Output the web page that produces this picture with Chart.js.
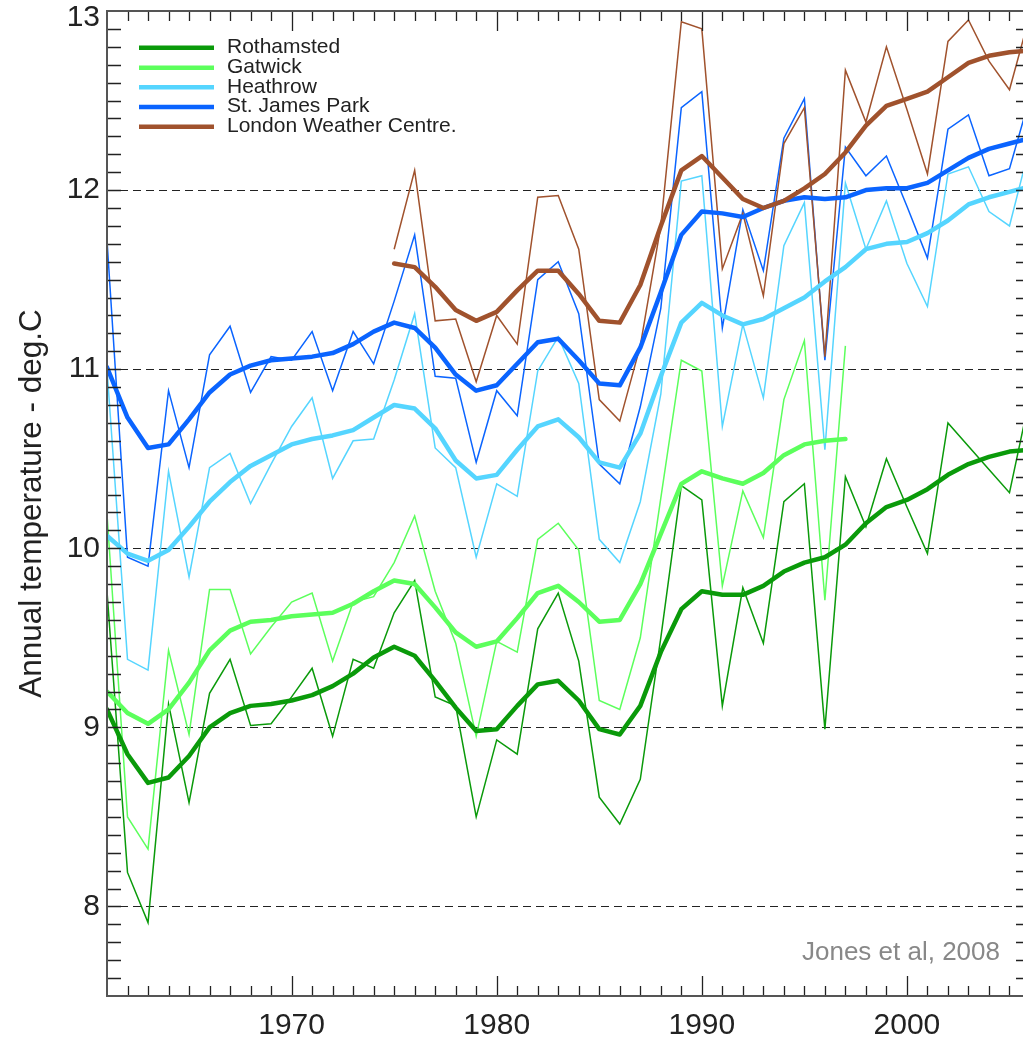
<!DOCTYPE html>
<html><head><meta charset="utf-8">
<script src="https://cdn.jsdelivr.net/npm/chart.js@4.4.1/dist/chart.umd.min.js"></script>
<style>
html,body{margin:0;padding:0;overflow:hidden;background:#fff;}
#wrap{position:absolute;left:0;top:0;width:1040px;height:1040px;}
</style>
</head><body><div id="wrap"><canvas id="c" width="1040" height="1040"></canvas></div>
<script>
const years = [1961,1962,1963,1964,1965,1966,1967,1968,1969,1970,1971,1972,1973,1974,1975,1976,1977,1978,1979,1980,1981,1982,1983,1984,1985,1986,1987,1988,1989,1990,1991,1992,1993,1994,1995,1996,1997,1998,1999,2000,2001,2002,2003,2004,2005,2006];
const gatwickYears = years.slice(0, 37);   // 1961-1997
const lwcYears = years.slice(14);          // 1975-2006

const rothamstedRaw = [9.76,8.19,7.91,9.13,8.58,9.19,9.38,9.01,9.02,9.17,9.33,8.95,9.38,9.33,9.64,9.82,9.17,9.12,8.50,8.93,8.85,9.55,9.75,9.37,8.61,8.46,8.71,9.50,10.35,10.27,9.12,9.78,9.47,10.26,10.36,8.99,10.40,10.12,10.50,10.23,9.97,10.70,10.57,10.44,10.31,10.85];
const rothamstedSmooth = [9.10,8.85,8.69,8.72,8.84,9.00,9.08,9.12,9.13,9.15,9.18,9.23,9.30,9.39,9.45,9.40,9.26,9.11,8.98,8.99,9.12,9.24,9.26,9.15,8.99,8.96,9.12,9.42,9.66,9.76,9.74,9.74,9.79,9.87,9.92,9.95,10.02,10.14,10.23,10.27,10.33,10.41,10.47,10.51,10.54,10.55];

const gatwickRaw = [10.19,8.50,8.32,9.43,8.96,9.77,9.77,9.41,9.56,9.70,9.75,9.37,9.70,9.73,9.92,10.18,9.76,9.47,8.95,9.48,9.42,10.05,10.14,9.99,9.15,9.10,9.50,10.28,11.05,10.99,9.79,10.32,10.06,10.83,11.16,9.71,11.13];
const gatwickSmooth = [9.20,9.08,9.02,9.10,9.25,9.43,9.54,9.59,9.60,9.62,9.63,9.64,9.69,9.76,9.82,9.80,9.67,9.53,9.45,9.48,9.61,9.75,9.79,9.70,9.59,9.60,9.80,10.08,10.36,10.43,10.39,10.36,10.42,10.52,10.58,10.60,10.61];

const heathrowRaw = [11.00,9.38,9.32,10.43,9.84,10.45,10.53,10.25,10.47,10.68,10.84,10.39,10.60,10.61,10.94,11.31,10.56,10.45,9.95,10.36,10.29,10.99,11.18,10.92,10.05,9.92,10.26,10.86,12.05,12.08,10.68,11.25,10.84,11.69,11.93,10.55,12.04,11.67,11.94,11.59,11.35,12.09,12.13,11.88,11.80,12.25];
const heathrowSmooth = [10.07,9.97,9.93,9.99,10.12,10.26,10.37,10.46,10.52,10.58,10.61,10.63,10.66,10.73,10.80,10.78,10.67,10.49,10.39,10.41,10.55,10.68,10.72,10.62,10.48,10.45,10.64,10.96,11.26,11.37,11.30,11.25,11.28,11.34,11.40,11.49,11.57,11.67,11.70,11.71,11.76,11.83,11.92,11.96,11.99,12.02];

const stJamesRaw = [11.72,9.95,9.90,10.88,10.45,11.08,11.24,10.87,11.07,11.05,11.21,10.88,11.21,11.03,11.38,11.75,10.96,10.95,10.48,10.88,10.74,11.50,11.60,11.31,10.47,10.36,10.79,11.34,12.46,12.55,11.23,11.89,11.55,12.29,12.51,11.05,12.24,12.08,12.19,11.91,11.62,12.34,12.42,12.08,12.12,12.52];
const stJamesSmooth = [11.01,10.73,10.56,10.58,10.72,10.87,10.97,11.02,11.05,11.06,11.07,11.09,11.14,11.21,11.26,11.23,11.12,10.97,10.88,10.91,11.03,11.15,11.17,11.05,10.92,10.91,11.12,11.43,11.75,11.88,11.87,11.85,11.90,11.94,11.96,11.95,11.96,12.00,12.01,12.01,12.04,12.11,12.18,12.23,12.26,12.29];

const lwcRaw = [11.67,12.11,11.27,11.28,10.93,11.30,11.14,11.96,11.97,11.67,10.83,10.71,11.13,11.80,12.94,12.90,11.56,11.87,11.41,12.26,12.46,11.07,12.67,12.38,12.80,12.45,12.09,12.83,12.95,12.72,12.56,12.98];
const lwcSmooth = [11.59,11.57,11.46,11.33,11.27,11.32,11.44,11.55,11.55,11.42,11.27,11.26,11.47,11.80,12.11,12.19,12.07,11.95,11.90,11.94,12.01,12.09,12.21,12.36,12.47,12.51,12.55,12.63,12.71,12.75,12.77,12.78];

const seriesNames = ["Rothamsted","Gatwick","Heathrow","St. James Park","London Weather Centre."];
const seriesColors = ["#0a9a0a","#5cff5c","#55d5ff","#0a64ff","#a0522d"];
const yLabelTicks = [8,9,10,11,12,13];
const xLabelTicks = [1970,1980,1990,2000];

function pts(xs, ys){ return xs.map((x,i)=>({x:x, y:ys[i]})); }

const FONT = '"Liberation Sans", Arial, Helvetica, sans-serif';

const rawSets = [
  [years, rothamstedRaw], [gatwickYears, gatwickRaw], [years, heathrowRaw], [years, stJamesRaw], [lwcYears, lwcRaw]
];
const smoothSets = [
  [years, rothamstedSmooth], [gatwickYears, gatwickSmooth], [years, heathrowSmooth], [years, stJamesSmooth], [lwcYears, lwcSmooth]
];

const datasets = [];
rawSets.forEach((s,i)=>{
  datasets.push({label:'', data:pts(s[0],s[1]), borderColor:seriesColors[i], borderWidth:1.5,
    pointRadius:0, tension:0, fill:false, order:10-i, isRaw:true});
});
smoothSets.forEach((s,i)=>{
  datasets.push({label:seriesNames[i], data:pts(s[0],s[1]), borderColor:seriesColors[i], borderWidth:4.5,
    pointRadius:0, tension:0, fill:false, order:5-i, borderJoinStyle:'round', borderCapStyle:'round'});
});

const framePlugin = {
  id:'frame',
  beforeDatasetsDraw(chart){
    const {ctx, chartArea:a, scales:{y}} = chart;
    ctx.save();
    ctx.strokeStyle = '#222';
    ctx.lineWidth = 1.2;
    ctx.setLineDash([8,5]);
    yLabelTicks.forEach(v=>{
      if (v >= 13) return;
      const py = Math.round(y.getPixelForValue(v)) + 0.5;
      ctx.beginPath(); ctx.moveTo(a.left, py); ctx.lineTo(a.right, py); ctx.stroke();
    });
    ctx.restore();
  },
  afterDatasetsDraw(chart){
    const {ctx, chartArea:a, scales:{x,y}} = chart;
    ctx.save();
    ctx.strokeStyle = '#222';
    ctx.lineWidth = 1.3;
    for (let yr = 1962; yr <= 2005; yr++){
      const px = Math.round(x.getPixelForValue(yr)) + 0.5;
      const len = (yr % 10 === 0) ? 20 : 10;
      ctx.beginPath();
      ctx.moveTo(px, a.bottom); ctx.lineTo(px, a.bottom - len);
      ctx.moveTo(px, a.top); ctx.lineTo(px, a.top + len);
      ctx.stroke();
    }
    for (let k = 76; k <= 129; k++){
      const v = k/10;
      const py = Math.round(y.getPixelForValue(v)) + 0.5;
      const len = 14;
      ctx.beginPath();
      ctx.moveTo(a.left, py); ctx.lineTo(a.left + len, py);
      ctx.moveTo(a.right, py); ctx.lineTo(a.right - len, py);
      ctx.stroke();
    }
    ctx.strokeStyle = '#555';
    ctx.lineWidth = 2;
    ctx.strokeRect(a.left, a.top, a.right - a.left, a.bottom - a.top);

    const legendRows = [47.7, 67.7, 87.3, 106.9, 126.7];
    const smooth = chart.data.datasets.filter(d=>!d.isRaw);
    smooth.forEach((d,i)=>{
      const ly = legendRows[i];
      ctx.strokeStyle = d.borderColor;
      ctx.lineWidth = 4.5;
      ctx.lineCap = 'butt';
      ctx.beginPath(); ctx.moveTo(139, ly); ctx.lineTo(214, ly); ctx.stroke();
      ctx.fillStyle = '#222';
      ctx.font = '21px ' + FONT;
      ctx.textAlign = 'left';
      ctx.textBaseline = 'alphabetic';
      ctx.fillText(d.label, 227, ly + 5.5);
    });
    ctx.fillStyle = '#888';
    ctx.font = '26px ' + FONT;
    ctx.textAlign = 'right';
    ctx.textBaseline = 'alphabetic';
    ctx.fillText('Jones et al, 2008', 1000, 960);
    ctx.restore();
  }
};

new Chart(document.getElementById('c'), {
  type:'line',
  data:{datasets},
  options:{
    responsive:false,
    animation:false,
    layout:{padding:{top:11, right:10, left:0, bottom:0}},
    plugins:{legend:{display:false}, tooltip:{enabled:false}},
    scales:{
      x:{
        type:'linear', min:1961, max:2006,
        grid:{display:false, drawTicks:false},
        border:{display:false},
        afterBuildTicks(scale){ scale.ticks = xLabelTicks.map(v=>({value:v})); },
        afterFit(scale){ scale.height = 44; },
        ticks:{font:{size:30, family:FONT}, color:'#222', padding:12, maxRotation:0,
          callback:(v)=>String(v)}
      },
      y:{
        type:'linear', min:7.5, max:13,
        grid:{display:false, drawTicks:false},
        border:{display:false},
        // the top label is nudged inside the frame, as in the original figure
        afterBuildTicks(scale){ scale.ticks = yLabelTicks.map(v=>({value: v >= scale.max ? v - 0.035 : v})); },
        afterFit(scale){ scale.width = 107; scale.paddingTop = 0; scale.paddingBottom = 0; },
        ticks:{font:{size:30, family:FONT, lineHeight:0.5}, color:'#222', padding:7,
          callback:(v)=>String(Math.round(v))},
        title:{display:true, text:'Annual temperature - deg.C', color:'#222',
          font:{size:31.5, family:FONT}, padding:{top:13, bottom:0}}
      }
    }
  },
  plugins:[framePlugin]
});
</script>
</body></html>
